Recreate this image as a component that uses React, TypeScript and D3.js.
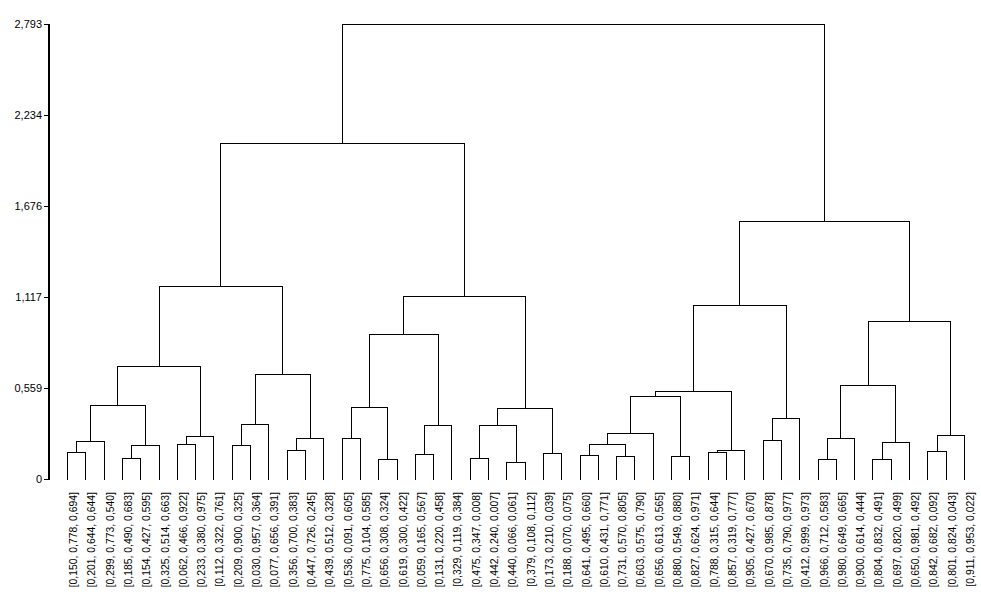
import React from "react";
import * as d3 from "d3";

const leafLabels = [
  "[0,150, 0,778, 0,694]", "[0,201, 0,644, 0,644]", "[0,299, 0,773, 0,540]", "[0,185, 0,490, 0,683]",
  "[0,154, 0,427, 0,595]", "[0,325, 0,514, 0,663]", "[0,062, 0,466, 0,922]", "[0,233, 0,380, 0,975]",
  "[0,112, 0,322, 0,761]", "[0,209, 0,900, 0,325]", "[0,030, 0,957, 0,364]", "[0,077, 0,656, 0,391]",
  "[0,356, 0,700, 0,383]", "[0,447, 0,726, 0,245]", "[0,439, 0,512, 0,328]", "[0,536, 0,091, 0,605]",
  "[0,775, 0,104, 0,585]", "[0,656, 0,308, 0,324]", "[0,619, 0,300, 0,422]", "[0,059, 0,165, 0,567]",
  "[0,131, 0,220, 0,458]", "[0,329, 0,119, 0,384]", "[0,475, 0,347, 0,008]", "[0,442, 0,240, 0,007]",
  "[0,440, 0,066, 0,061]", "[0,379, 0,108, 0,112]", "[0,173, 0,210, 0,039]", "[0,188, 0,070, 0,075]",
  "[0,641, 0,495, 0,660]", "[0,610, 0,431, 0,771]", "[0,731, 0,570, 0,805]", "[0,603, 0,575, 0,790]",
  "[0,656, 0,613, 0,565]", "[0,880, 0,549, 0,880]", "[0,827, 0,624, 0,971]", "[0,788, 0,315, 0,644]",
  "[0,857, 0,319, 0,777]", "[0,905, 0,427, 0,670]", "[0,670, 0,985, 0,878]", "[0,735, 0,790, 0,977]",
  "[0,412, 0,999, 0,973]", "[0,966, 0,712, 0,583]", "[0,980, 0,649, 0,665]", "[0,900, 0,614, 0,444]",
  "[0,804, 0,832, 0,491]", "[0,697, 0,820, 0,499]", "[0,650, 0,981, 0,492]", "[0,842, 0,682, 0,092]",
  "[0,801, 0,824, 0,043]", "[0,911, 0,953, 0,022]",
];

// Merge steps: ids 0..49 are leaves, merge k gets id 50 + k
const mergeLeft = [
  0, 50, 3, 52, 51, 6, 55, 54, 9, 58, 12, 60, 59, 57,
  15, 17, 64, 19, 67, 66, 22, 24, 70, 26, 72, 69, 63,
  28, 30, 77, 79, 33, 80, 35, 83, 82, 38, 86, 85,
  41, 89, 44, 91, 90, 47, 94, 93, 88, 76,
];
const mergeRight = [
  1, 2, 4, 5, 53, 7, 8, 56, 10, 11, 13, 14, 61, 62,
  16, 18, 65, 20, 21, 68, 23, 25, 71, 27, 73, 74, 75,
  29, 31, 78, 32, 34, 81, 36, 37, 84, 39, 40, 87,
  42, 43, 45, 46, 92, 48, 49, 95, 96, 97,
];
const mergeHeight = [
  0.164, 0.231, 0.127, 0.207, 0.452, 0.213, 0.262, 0.692, 0.207, 0.336, 0.176, 0.25, 0.643, 1.185,
  0.25, 0.121, 0.44, 0.152, 0.33, 0.888, 0.127, 0.102, 0.33, 0.158, 0.434, 1.122, 2.061,
  0.145, 0.139, 0.213, 0.28, 0.139, 0.508, 0.164, 0.176, 0.538, 0.238, 0.373, 1.066,
  0.121, 0.25, 0.121, 0.225, 0.575, 0.17, 0.268, 0.968, 1.582, 2.793,
];

const yTicks = [0, 0.559, 1.117, 1.676, 2.234, 2.793];
const yMax = 2.793;

type TNode = { id: number; h: number; children?: TNode[] };

export default function App() {
  const width = 981;
  const height = 602;

  const nodes: TNode[] = leafLabels.map((_, i) => ({ id: i, h: 0 }));
  mergeLeft.forEach((a, k) => {
    nodes.push({ id: 50 + k, h: mergeHeight[k], children: [nodes[a], nodes[mergeRight[k]]] });
  });
  const root = d3.hierarchy<TNode>(nodes[nodes.length - 1]);

  const x = d3.scalePoint<number>().domain(d3.range(leafLabels.length)).range([67, 964]);
  const y = d3.scaleLinear().domain([0, yMax]).range([479, 24]);

  const px = new Map<number, number>();
  root.eachAfter((n) => {
    if (!n.children) px.set(n.data.id, x(n.data.id) as number);
    else px.set(n.data.id, d3.mean(n.children, (c) => px.get(c.data.id)!) as number);
  });

  const sx = (v: number) => Math.round(v) + 0.5;
  const sy = (v: number) => Math.round(y(v)) + 0.5;

  const links: string[] = [];
  root.each((n) => {
    if (!n.children) return;
    const [a, b] = n.children;
    const yp = sy(n.data.h);
    links.push(
      `M${sx(px.get(a.data.id)!)},${sy(a.data.h)}V${yp}H${sx(px.get(b.data.id)!)}V${sy(b.data.h)}`
    );
  });

  const fmt = (v: number) => (v === 0 ? "0" : v.toFixed(3).replace(".", ","));

  return (
    <svg
      width={width}
      height={height}
      style={{ position: "absolute", left: 0, top: 0, background: "#fff", display: "block" }}
      fontFamily="'Liberation Sans', Arial, sans-serif"
    >
      <rect x={0} y={0} width={width} height={height} fill="#fff" />
      <g shapeRendering="crispEdges" stroke="#000" fill="none">
        {links.map((d, i) => (
          <path key={i} d={d} strokeWidth={1} />
        ))}
        <line x1={48.5} x2={48.5} y1={y(yMax)} y2={y(0) + 1} strokeWidth={2} />
        {yTicks.map((t) => (
          <line key={t} x1={44} x2={48} y1={sy(t)} y2={sy(t)} strokeWidth={1} />
        ))}
      </g>
      <g fontSize={11} fill="#000" textAnchor="end">
        {yTicks.map((t) => (
          <text key={t} x={42} y={Math.round(y(t))} dy="0.35em">
            {fmt(t)}
          </text>
        ))}
      </g>
      <g fontSize={10.4} fill="#000" textAnchor="end">
        {leafLabels.map((l, i) => (
          <text key={i} transform={`translate(${(x(i) as number) + 10},492) rotate(-90)`}>
            {l}
          </text>
        ))}
      </g>
    </svg>
  );
}
